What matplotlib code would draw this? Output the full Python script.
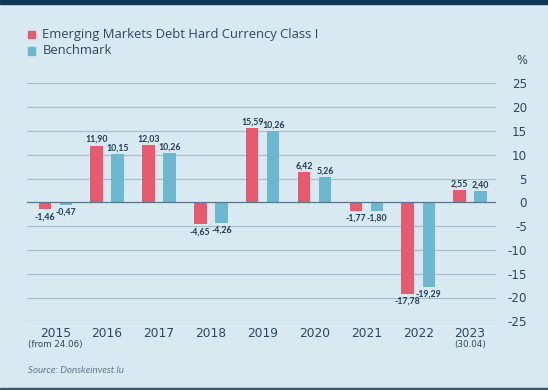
import matplotlib
matplotlib.use("Agg")
import matplotlib.pyplot as plt
from matplotlib.patches import Rectangle
import numpy as np

years = ["2015", "2016", "2017", "2018", "2019", "2020", "2021", "2022", "2023"]
sub_labels = {"2015": "(from 24.06)", "2023": "(30.04)"}
fund = [-1.46, 11.90, 12.03, -4.65, 15.59, 6.42, -1.77, -19.29, 2.55]
bench = [-0.47, 10.15, 10.26, -4.26, 14.9, 5.26, -1.80, -17.78, 2.40]
fund_labels = ["-1,46", "11,90", "12,03", "-4,65", "15,59", "6,42", "-1,77", "-17,78", "2,55"]
bench_labels = ["-0,47", "10,15", "10,26", "-4,26", "10,26", "5,26", "-1,80", "-19,29", "2,40"]
yticks = [25, 20, 15, 10, 5, 0, -5, -10, -15, -20, -25]
series_names = ["Emerging Markets Debt Hard Currency Class I", "Benchmark"]

BG = "#d8e9f1"
RED = "#e85a6e"
BLUE = "#6cb9cf"
TXT = "#2b4862"
GRID = "#a3bbca"
ZERO = "#56778f"
NUMFONT = "DejaVu Sans"
TXTFONT = "Open Sans"

fig = plt.figure(figsize=(5.48, 3.90), dpi=100)
fig.patch.set_facecolor(BG)
W, H = 548, 390
ax = fig.add_axes([27 / W, 68.7 / H, (496 - 27) / W, 238 / H])
ax.set_facecolor(BG)

x = np.arange(len(years))
bw = 0.24
off = 0.203
ax.bar(x - off, fund, width=bw, color=RED, zorder=3)
ax.bar(x + off, bench, width=bw, color=BLUE, zorder=3)

ax.set_xlim(-0.545, 8.5)
ax.set_ylim(-25, 25)
for s in ax.spines.values():
    s.set_visible(False)
ax.set_yticks(yticks)
ax.set_yticklabels([str(v) for v in yticks])
ax.yaxis.tick_right()
ax.tick_params(axis="y", length=0, pad=22.3, labelsize=8.6, labelcolor=TXT)
for lab in ax.get_yticklabels():
    lab.set_horizontalalignment("right")
    lab.set_fontfamily(NUMFONT)
for v in yticks:
    ax.axhline(v, color=ZERO if v == 0 else GRID, lw=0.9 if v == 0 else 0.8, zorder=1 if v else 4)

ax.set_xticks(x)
ax.set_xticklabels(years)
ax.tick_params(axis="x", length=0, pad=3.8, labelsize=8.8, labelcolor=TXT)
for lab in ax.get_xticklabels():
    lab.set_fontfamily(NUMFONT)

for i, y in enumerate(years):
    if y in sub_labels:
        ax.annotate(sub_labels[y], xy=(i, 0), xycoords=("data", "axes fraction"),
                    xytext=(0, -16.5), textcoords="offset points", ha="center", va="center",
                    fontsize=6.3, color=TXT, family=NUMFONT)

def put_labels(vals, labs, dx):
    for i, (v, t) in enumerate(zip(vals, labs)):
        dy = 4.4 if v >= 0 else -5.4
        ax.annotate(t, xy=(i + dx, v), xytext=(0, dy), textcoords="offset points",
                    ha="center", va="center", fontsize=6.3, color="#1f3d57",
                    family="Lato", fontweight="bold")

put_labels(fund, fund_labels, -off)
put_labels(bench, bench_labels, off)

# legend
for k, (name, col) in enumerate(zip(series_names, [RED, BLUE])):
    yc = 34.6 + k * 16.4
    fig.patches.append(Rectangle((27.7 / W, 1 - (yc + 3.8) / H), 7.6 / W, 7.6 / H,
                                 transform=fig.transFigure, color=col, zorder=5))
    fig.text(42.5 / W, 1 - yc / H, name, ha="left", va="center", fontsize=9.35,
             color=TXT, family=TXTFONT)

fig.text(527 / W, 1 - 60 / H, "%", ha="right", va="center", fontsize=8.3, color=TXT, family=NUMFONT)
fig.text(27.7 / W, 1 - 370.7 / H, "Source: Donskeinvest.lu", ha="left", va="center",
         fontsize=7, color="#5f7a8e", style="italic", family="Lato")

# borders
fig.patches.append(Rectangle((0, 1 - 3.5 / H), 1, 3.5 / H, transform=fig.transFigure,
                             color="#0f3858", zorder=10))
fig.patches.append(Rectangle((0, 0), 1, 2.2 / H, transform=fig.transFigure,
                             color="#3c5870", zorder=10))

fig.savefig("out.png", dpi=100, facecolor=BG)
